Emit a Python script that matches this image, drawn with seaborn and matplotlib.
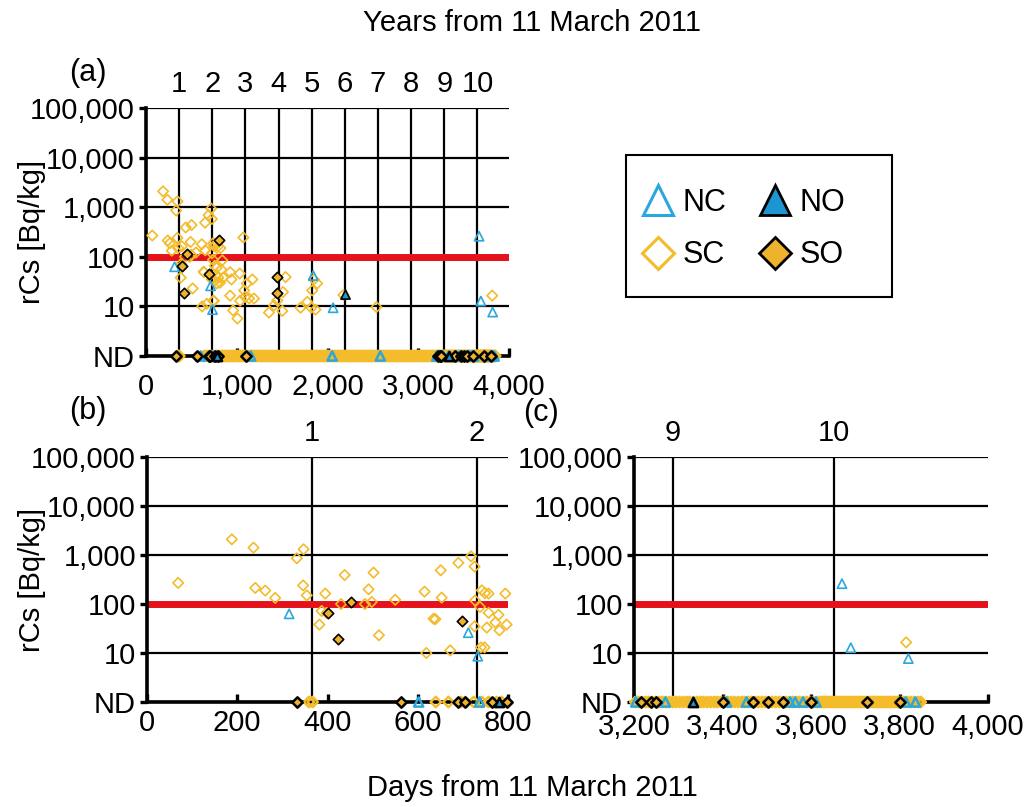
import numpy as np
import pandas as pd
import matplotlib
matplotlib.use("Agg")
import matplotlib.pyplot as plt
import seaborn as sns
from matplotlib.lines import Line2D
from matplotlib.patches import Rectangle
from matplotlib.ticker import FuncFormatter, NullLocator

sns.set_theme(style="white")
plt.rcParams['font.family'] = ['Liberation Sans', 'DejaVu Sans']
plt.rcParams['text.color'] = 'black'
plt.rcParams['axes.labelcolor'] = 'black'
plt.rcParams['xtick.color'] = 'black'
plt.rcParams['ytick.color'] = 'black'

# ---------------- data ----------------
NC_days = [315, 712, 733, 1842, 2062, 3670, 3690, 3820]
NC_vals = [63, 26, 8.6, 42, 9.4, 260, 12.8, 7.7]

NO_days = [2190]
NO_vals = [18]

SO_days = [402, 423, 452, 698, 805, 1440, 1440]
SO_vals = [66, 19, 112, 45, 215, 39, 19]

SC_days = [69, 188, 236, 240, 262, 284, 332, 346, 347, 354, 382, 387, 395, 398,
           430, 438, 483, 491, 498, 502, 514, 550, 615, 619, 635, 639, 651, 653,
           672, 690, 718, 726, 726, 727, 738, 740, 742, 748, 749, 753, 757, 757,
           772, 779, 781, 794, 797, 815, 820, 830, 840, 850,
           927, 927, 941, 960, 1007, 1033, 1037, 1073, 1081, 1092, 1110, 1136,
           1172, 1190, 1355, 1410, 1447, 1502, 1509, 1538, 1703, 1777, 1821,
           1832, 1850, 1868, 1886, 2175, 2540, 3815]
SC_vals = [269, 2090, 1410, 213, 188, 133, 857, 240, 1310, 150, 38, 72, 163, 66,
           100, 390, 100, 199, 110, 437, 23, 122, 179, 10, 50, 49, 487, 135,
           11.3, 690, 940, 580, 35, 118, 87, 13, 190, 13, 167, 33, 163, 66,
           42, 60, 29, 163, 38, 30, 150, 55, 85, 38,
           49, 16.5, 35, 8.3, 5.7, 46, 13, 245, 21, 15.5, 29, 14.5,
           35, 14.4, 7.5, 10.5, 13.2, 8.1, 19.5, 39, 9.4, 12.3, 9.4,
           21, 35, 8.6, 29, 17, 9.7, 16.5]

# days of not-detected (ND) samples
NC_nd_days = [602, 737, 1154, 2051, 2582, 3204, 3271, 3334, 3409, 3454, 3553,
              3564, 3582, 3611, 3814, 3836]
NO_nd_days = [781, 3334]
SO_nd_days = [332, 562, 690, 705, 764, 797, 1099, 3215, 3238, 3249, 3400, 3468,
              3502, 3536, 3599, 3727, 3801]
SC_nd_days = [359, 367, 640, 668, 696, 705, 724, 742, 757, 775, 786,
              812, 830, 845, 862, 880, 902, 918, 935, 952, 968, 990, 1010, 1027,
              1044, 1065, 1085,
              1102, 1121, 1139, 1160, 1178, 1197, 1215, 1236, 1254, 1273, 1291,
              1312, 1330, 1349, 1367, 1388, 1406, 1425, 1443, 1464, 1482, 1501,
              1519, 1540, 1558, 1577, 1595, 1616, 1634, 1653, 1671, 1692, 1710,
              1729, 1747, 1768, 1786, 1805, 1823, 1844, 1862, 1881, 1899, 1920,
              1938, 1957, 1975, 1996, 2014, 2033, 2051, 2072, 2090, 2109, 2127,
              2148, 2166, 2185, 2203, 2224, 2242, 2261, 2279, 2300, 2318, 2337,
              2355, 2376, 2394, 2413, 2431, 2452, 2470, 2489, 2507, 2528, 2546,
              2565, 2583, 2604, 2622, 2641, 2659, 2680, 2698, 2717, 2735, 2756,
              2774, 2793, 2811, 2832, 2850, 2869, 2887, 2908, 2926, 2945, 2963,
              2984, 3002, 3021, 3039, 3060, 3078, 3097, 3115, 3136, 3154, 3173,
              3191,
              3203, 3210, 3218, 3226, 3233, 3241, 3249, 3257, 3264, 3272, 3280,
              3288, 3295, 3303, 3311, 3319, 3326, 3334, 3342, 3350, 3357, 3365,
              3373, 3381, 3388, 3396, 3404, 3412, 3419, 3427, 3435, 3443, 3450,
              3458, 3466, 3474, 3481, 3489, 3497, 3505, 3512, 3520, 3528, 3536,
              3543, 3551, 3559, 3567, 3574, 3582, 3590, 3598, 3605, 3613,
              3620, 3624, 3628, 3632, 3637, 3641, 3645, 3649, 3654, 3658, 3662,
              3666, 3671, 3675, 3679, 3683, 3688, 3692, 3696, 3700, 3705, 3709,
              3713, 3717, 3722, 3726, 3730, 3734, 3739, 3743, 3747, 3751, 3756,
              3760, 3764, 3768, 3773, 3777, 3781, 3785, 3790, 3794, 3798, 3803,
              3810, 3818, 3826, 3834, 3842, 3848]

ND_LEVEL = 1
LIMIT = 100
DAYS_PER_YEAR = 365.25

y_ticks = [1, 10, 100, 1000, 10000, 100000]
y_tick_labels = ["ND", "10", "100", "1,000", "10,000", "100,000"]

a_xticks = [0, 1000, 2000, 3000, 4000]
b_xticks = [0, 200, 400, 600, 800]
c_xticks = [3200, 3400, 3600, 3800, 4000]
a_years = [1, 2, 3, 4, 5, 6, 7, 8, 9, 10]
b_years = [1, 2]
c_years = [9, 10]

group_order = ["SC", "NC", "SO", "NO"]

# ---------------- build table ----------------
records = []
for g, d, v, nd in [("NC", NC_days, NC_vals, NC_nd_days),
                    ("NO", NO_days, NO_vals, NO_nd_days),
                    ("SC", SC_days, SC_vals, SC_nd_days),
                    ("SO", SO_days, SO_vals, SO_nd_days)]:
    for x, y in zip(d, v):
        records.append((g, x, y, False))
    for x in nd:
        records.append((g, x, ND_LEVEL, True))
df = pd.DataFrame(records, columns=["group", "day", "rcs", "nd"])

BLUE = "#2AA7DF"
BLUE_FILL = "#1D95D3"
YELLOW = "#F4BB2A"
GOLD = "#EDB32C"
RED = "#E5121C"
FS = 21

styles = {
    "NC": dict(marker="^", facecolor="none", edgecolor=BLUE, s=44),
    "NO": dict(marker="^", facecolor=BLUE_FILL, edgecolor="black", s=44),
    "SC": dict(marker="D", facecolor="none", edgecolor=YELLOW, s=28),
    "SO": dict(marker="D", facecolor=GOLD, edgecolor="black", s=28),
}

W, H = 1028, 807
fig = plt.figure(figsize=(W / 100, H / 100), dpi=100)
fig.patch.set_facecolor("white")


def fx(px):
    return px / W


def fy(py):
    return 1 - py / H


def panel(rect, xlim, xticks, years, xpad):
    ax = fig.add_axes(rect)
    ax.set_facecolor("white")
    sub = df[(df.day >= xlim[0]) & (df.day <= xlim[1])]
    for is_nd, lw in [(True, 1.8), (False, 1.2)]:
        for g in group_order:
            gd = sub[(sub.group == g) & (sub.nd == is_nd)]
            if len(gd) == 0:
                continue
            sns.scatterplot(data=gd, x="day", y="rcs", ax=ax, clip_on=False,
                            zorder=3, legend=False, linewidth=lw, **styles[g])
    ax.set_yscale("log")
    ax.set_ylim(1, 100000)
    ax.set_xlim(*xlim)
    ax.set_yticks(y_ticks)
    ax.set_yticklabels(y_tick_labels)
    ax.yaxis.set_minor_locator(NullLocator())
    ax.set_xticks(xticks)
    ax.xaxis.set_major_formatter(FuncFormatter(lambda v, p: f"{v:,.0f}"))
    ax.set_xticks([y * DAYS_PER_YEAR for y in years], minor=True)
    ax.set_axisbelow(True)
    ax.grid(False)
    ax.grid(True, axis="y", which="major", color="black", linewidth=1.6)
    ax.grid(True, axis="x", which="minor", color="black", linewidth=1.6)
    ax.tick_params(axis="x", which="minor", length=0, bottom=True)
    ax.tick_params(axis="x", which="major", direction="in", length=6, width=2.4,
                   pad=xpad, labelsize=FS, bottom=True, colors="black")
    ax.tick_params(axis="y", which="major", direction="out", length=5, width=2.4,
                   pad=3, labelsize=FS, left=True, colors="black")
    for s in ["top", "right"]:
        ax.spines[s].set_visible(False)
    for s in ["left", "bottom"]:
        ax.spines[s].set_linewidth(2.6)
        ax.spines[s].set_color("black")
    ax.axhline(LIMIT, color=RED, linewidth=5, zorder=2)
    ax.set_xlabel("")
    ax.set_ylabel("")
    sec = ax.secondary_xaxis("top", functions=(lambda d: d / DAYS_PER_YEAR,
                                                lambda y: y * DAYS_PER_YEAR))
    sec.set_xticks(years)
    sec.set_xticklabels([str(y) for y in years])
    sec.tick_params(length=0, pad=7, labelsize=FS, top=True, colors="black")
    sec.spines["top"].set_visible(False)
    return ax


ax_a = panel([fx(146), fy(356), (509 - 146) / W, (356 - 108) / H],
             (0, 4000), a_xticks, a_years, 12)
ax_b = panel([fx(147), fy(702), (508 - 147) / W, (702 - 457) / H],
             (0, 800), b_xticks, b_years, 5)
ax_c = panel([fx(634), fy(702), (988 - 634) / W, (702 - 457) / H],
             (3200, 4000), c_xticks, c_years, 8)

# figure texts
fig.text(fx(532), fy(23), "Years from 11 March 2011", ha="center", va="center", fontsize=FS)
fig.text(fx(532), fy(788), "Days from 11 March 2011", ha="center", va="center", fontsize=FS)
fig.text(fx(88), fy(73), "(a)", ha="center", va="center", fontsize=22)
fig.text(fx(88), fy(411), "(b)", ha="center", va="center", fontsize=22)
fig.text(fx(541), fy(413), "(c)", ha="center", va="center", fontsize=22)
fig.text(fx(32), fy(232), "rCs [Bq/kg]", rotation=90, ha="center", va="center", fontsize=FS)
fig.text(fx(32), fy(580), "rCs [Bq/kg]", rotation=90, ha="center", va="center", fontsize=FS)

# legend
handles = {
    "NC": Line2D([], [], linestyle="none", marker="^", markersize=21, markerfacecolor="white",
                 markeredgecolor=BLUE, markeredgewidth=2.2),
    "NO": Line2D([], [], linestyle="none", marker="^", markersize=21, markerfacecolor=BLUE_FILL,
                 markeredgecolor="black", markeredgewidth=2.0),
    "SC": Line2D([], [], linestyle="none", marker="D", markersize=16, markerfacecolor="white",
                 markeredgecolor=YELLOW, markeredgewidth=2.2),
    "SO": Line2D([], [], linestyle="none", marker="D", markersize=16, markerfacecolor=GOLD,
                 markeredgecolor="black", markeredgewidth=2.0),
}
order = ["NC", "SC", "NO", "SO"]
fig.legend([handles[k] for k in order], order, ncol=2, loc="center",
           bbox_to_anchor=(fx(744), fy(229)), frameon=False, fontsize=22,
           handlelength=1.0, handletextpad=0.3, columnspacing=1.1, labelspacing=0.75)
fig.patches.append(Rectangle((fx(626), fy(297)), (892 - 626) / W, (297 - 155) / H,
                             transform=fig.transFigure, fill=False, edgecolor="black",
                             linewidth=1.5))

fig.savefig("out.png", dpi=100, facecolor="white")
